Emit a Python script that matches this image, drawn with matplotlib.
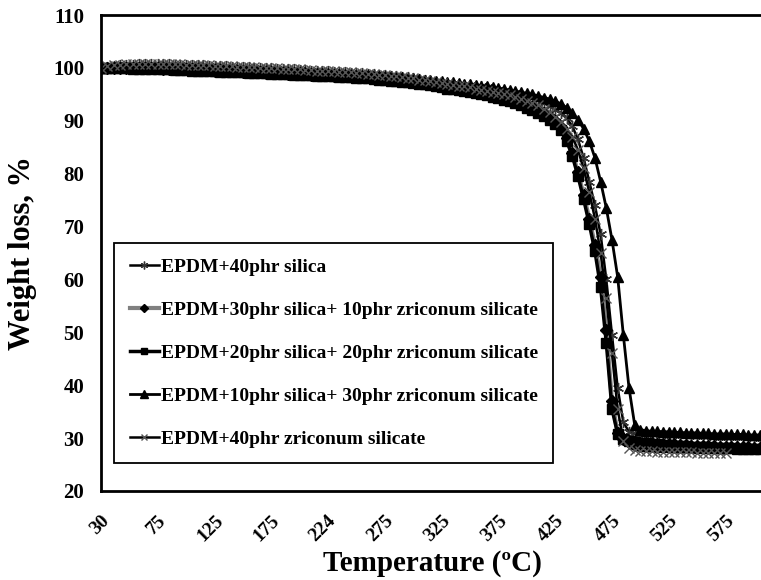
#!/usr/bin/env python3

import numpy as np
import matplotlib.pyplot as plt

plt.rcParams['font.family'] = ['Liberation Serif', 'DejaVu Serif']
plt.rcParams['font.weight'] = 'bold'

# temperature readings, every 5 degC from 30 to 605
temp = np.arange(30, 610, 5)

silica_40 = [
    100.0, 100.2, 100.4, 100.5, 100.6, 100.6, 100.7, 100.7, 100.7, 100.7,
    100.7, 100.7, 100.6, 100.6, 100.6, 100.5, 100.5, 100.5, 100.4, 100.4,
    100.3, 100.3, 100.2, 100.2, 100.1, 100.1, 100.0, 100.0, 99.9, 99.9,
    99.8, 99.8, 99.7, 99.7, 99.6, 99.6, 99.5, 99.5, 99.4, 99.4,
    99.3, 99.3, 99.2, 99.1, 99.1, 99.0, 98.9, 98.8, 98.7, 98.6,
    98.5, 98.4, 98.3, 98.2, 98.1, 97.9, 97.8, 97.6, 97.4, 97.2,
    97.1, 97.0, 96.9, 96.8, 96.7, 96.6, 96.5, 96.3, 96.1, 95.9,
    95.7, 95.5, 95.2, 94.9, 94.6, 94.3, 93.9, 93.4, 92.8, 92.1,
    91.5, 90.5, 89.0, 86.5, 83.0, 78.5, 74.0, 68.5, 60.0, 49.5,
    39.5, 33.0, 31.2, 30.9, 30.8, 30.8, 30.7, 30.7, 30.6, 30.6,
    30.6, 30.5, 30.5, 30.5, 30.4, 30.4, 30.4, 30.3, 30.3, 30.3,
    30.3, 30.2, 30.2, 30.2, 30.1, 30.1,
]

silica_30_zr_10 = [
    100.0, 100.0, 100.0, 100.0, 100.0, 99.9, 99.9, 99.9, 99.9, 99.9,
    99.8, 99.8, 99.8, 99.7, 99.7, 99.7, 99.6, 99.6, 99.6, 99.5,
    99.5, 99.4, 99.4, 99.4, 99.3, 99.3, 99.2, 99.2, 99.1, 99.1,
    99.0, 99.0, 98.9, 98.9, 98.8, 98.8, 98.7, 98.7, 98.6, 98.6,
    98.5, 98.5, 98.4, 98.4, 98.3, 98.2, 98.2, 98.1, 98.0, 97.9,
    97.8, 97.7, 97.6, 97.5, 97.4, 97.2, 97.1, 96.9, 96.7, 96.5,
    96.4, 96.3, 96.1, 96.0, 95.8, 95.6, 95.4, 95.2, 95.0, 94.7,
    94.4, 94.1, 93.8, 93.4, 93.0, 92.6, 92.1, 91.5, 90.8, 90.0,
    88.8, 86.8, 84.0, 80.3, 76.0, 71.5, 66.5, 60.5, 50.5, 37.0,
    31.0, 29.8, 29.4, 29.2, 29.1, 29.0, 29.0, 28.9, 28.9, 28.8,
    28.8, 28.7, 28.7, 28.6, 28.6, 28.5, 28.5, 28.5, 28.4, 28.4,
    28.4, 28.3, 28.3, 28.3, 28.2, 28.2,
]

silica_20_zr_20 = [
    100.0, 99.9, 99.9, 99.9, 99.9, 99.8, 99.8, 99.8, 99.8, 99.7,
    99.7, 99.7, 99.6, 99.6, 99.6, 99.5, 99.5, 99.5, 99.4, 99.4,
    99.3, 99.3, 99.3, 99.2, 99.2, 99.1, 99.1, 99.0, 99.0, 98.9,
    98.9, 98.8, 98.8, 98.7, 98.7, 98.6, 98.6, 98.5, 98.5, 98.4,
    98.4, 98.3, 98.3, 98.2, 98.1, 98.1, 98.0, 97.9, 97.8, 97.7,
    97.6, 97.5, 97.4, 97.3, 97.2, 97.0, 96.9, 96.7, 96.5, 96.3,
    96.1, 96.0, 95.8, 95.6, 95.4, 95.2, 95.0, 94.8, 94.5, 94.3,
    94.0, 93.7, 93.3, 92.9, 92.5, 92.0, 91.5, 90.9, 90.2, 89.4,
    88.3, 86.2, 83.4, 79.6, 75.2, 70.5, 65.3, 58.5, 48.0, 35.5,
    30.8, 29.8, 29.5, 29.3, 29.1, 29.0, 28.9, 28.8, 28.7, 28.7,
    28.6, 28.5, 28.5, 28.4, 28.4, 28.3, 28.3, 28.2, 28.2, 28.1,
    28.1, 28.0, 28.0, 28.0, 27.9, 27.9,
]

silica_10_zr_30 = [
    100.0, 100.0, 100.1, 100.1, 100.1, 100.1, 100.1, 100.1, 100.0, 100.0,
    100.0, 100.0, 99.9, 99.9, 99.9, 99.8, 99.8, 99.8, 99.7, 99.7,
    99.7, 99.6, 99.6, 99.6, 99.5, 99.5, 99.5, 99.4, 99.4, 99.4,
    99.3, 99.3, 99.3, 99.2, 99.2, 99.2, 99.1, 99.1, 99.0, 99.0,
    98.9, 98.9, 98.8, 98.8, 98.7, 98.7, 98.6, 98.6, 98.5, 98.4,
    98.4, 98.3, 98.2, 98.1, 98.0, 97.9, 97.8, 97.7, 97.6, 97.5,
    97.4, 97.3, 97.2, 97.0, 96.9, 96.8, 96.6, 96.5, 96.3, 96.2,
    96.0, 95.8, 95.6, 95.4, 95.2, 95.0, 94.7, 94.4, 94.1, 93.7,
    93.2, 92.5, 91.5, 90.2, 88.5, 86.2, 83.0, 78.5, 73.5, 67.5,
    60.5, 49.5, 39.5, 32.5, 31.6, 31.4, 31.3, 31.3, 31.2, 31.2,
    31.1, 31.1, 31.0, 31.0, 31.0, 30.9, 30.9, 30.8, 30.8, 30.8,
    30.7, 30.7, 30.7, 30.6, 30.6, 30.6,
]

# this run stops at 575 degC
zr_40 = [
    100.0, 100.3, 100.5, 100.6, 100.7, 100.8, 100.8, 100.8, 100.8, 100.8,
    100.8, 100.7, 100.7, 100.7, 100.6, 100.6, 100.6, 100.5, 100.5, 100.4,
    100.4, 100.3, 100.3, 100.2, 100.2, 100.1, 100.1, 100.0, 100.0, 99.9,
    99.9, 99.8, 99.8, 99.7, 99.7, 99.6, 99.6, 99.5, 99.5, 99.4,
    99.4, 99.3, 99.2, 99.2, 99.1, 99.0, 98.9, 98.8, 98.7, 98.6,
    98.5, 98.4, 98.3, 98.1, 98.0, 97.8, 97.7, 97.5, 97.3, 97.1,
    96.9, 96.8, 96.6, 96.5, 96.3, 96.1, 95.9, 95.7, 95.5, 95.3,
    95.0, 94.8, 94.5, 94.2, 93.8, 93.4, 92.9, 92.3, 91.6, 90.8,
    89.8, 88.5, 87.0, 84.5, 81.0, 76.5, 71.5, 65.0, 56.5, 46.0,
    35.5, 29.5, 28.2, 27.8, 27.6, 27.5, 27.5, 27.4, 27.4, 27.4,
    27.3, 27.3, 27.3, 27.3, 27.2, 27.2, 27.2, 27.2, 27.2, 27.1,
]

labels = [
    'EPDM+40phr silica',
    'EPDM+30phr silica+ 10phr zriconum silicate',
    'EPDM+20phr silica+ 20phr zriconum silicate',
    'EPDM+10phr silica+ 30phr zriconum silicate',
    'EPDM+40phr zriconum silicate',
]

tick_temps = [30, 75, 125, 175, 224, 275, 325, 375, 425, 475, 525, 575]


# category-like axis: the first step (30 -> 75) has the same width as the others
def fwd(t):
    t = np.asarray(t, dtype=float)
    return np.where(t < 75, (t - 30) * 50 / 45, t - 25)


def inv(i):
    i = np.asarray(i, dtype=float)
    return np.where(i < 50, 30 + i * 45 / 50, i + 25)


fig = plt.figure(figsize=(7.61, 5.80), dpi=100)
ax = fig.add_axes([101 / 761, 89 / 580, 662 / 761, 476 / 580])
ax.set_xscale('function', functions=(fwd, inv))

ax.plot(temp, silica_40, color='black', lw=1.8, marker=(6, 2, 0), ms=8,
        mec='#333333', mew=1.0, label=labels[0])
ax.plot(temp, silica_30_zr_10, color='#808080', lw=3, marker='D', ms=6,
        mfc='black', mec='black', label=labels[1])
ax.plot(temp, silica_20_zr_20, color='black', lw=2.5, marker='s', ms=6.5,
        mfc='black', mec='black', label=labels[2])
ax.plot(temp, silica_10_zr_30, color='black', lw=2, marker='^', ms=7.5,
        mfc='black', mec='black', label=labels[3])
ax.plot(temp[:len(zr_40)], zr_40, color='black', lw=1.8, marker='x', ms=6.5,
        mec='#555555', mew=1.0, label=labels[4])

ax.set_xlim(30, 608)
ax.set_ylim(20, 110)
ax.set_xticks(tick_temps)
ax.set_xticklabels([str(t) for t in tick_temps], rotation=45, ha='right',
                   rotation_mode='anchor', fontsize=14, fontweight='bold')
ax.set_yticks(range(20, 111, 10))
ax.tick_params(axis='y', length=0, pad=12, labelsize=15)
ax.tick_params(axis='x', length=0, pad=15)
for lab in ax.get_yticklabels():
    lab.set_fontweight('bold')

for side in ['left', 'bottom', 'top']:
    ax.spines[side].set_linewidth(2)
ax.spines['right'].set_visible(False)

ax.set_ylabel('Weight loss, %', fontsize=22, fontweight='bold', labelpad=12)
ax.set_xlabel('Temperature (\u00baC)', fontsize=21, fontweight='bold', labelpad=4)

leg = ax.legend(loc='upper left', bbox_to_anchor=(0.0197, 0.521), numpoints=1,
                fancybox=False, edgecolor='black', framealpha=1,
                prop={'family': 'Liberation Serif', 'weight': 'bold', 'size': 14},
                handlelength=1.5, handletextpad=0.1, labelspacing=1.3,
                borderpad=0.8, borderaxespad=0, markerscale=0.7)
leg.get_frame().set_linewidth(1.3)

fig.savefig('out.png', dpi=100)
